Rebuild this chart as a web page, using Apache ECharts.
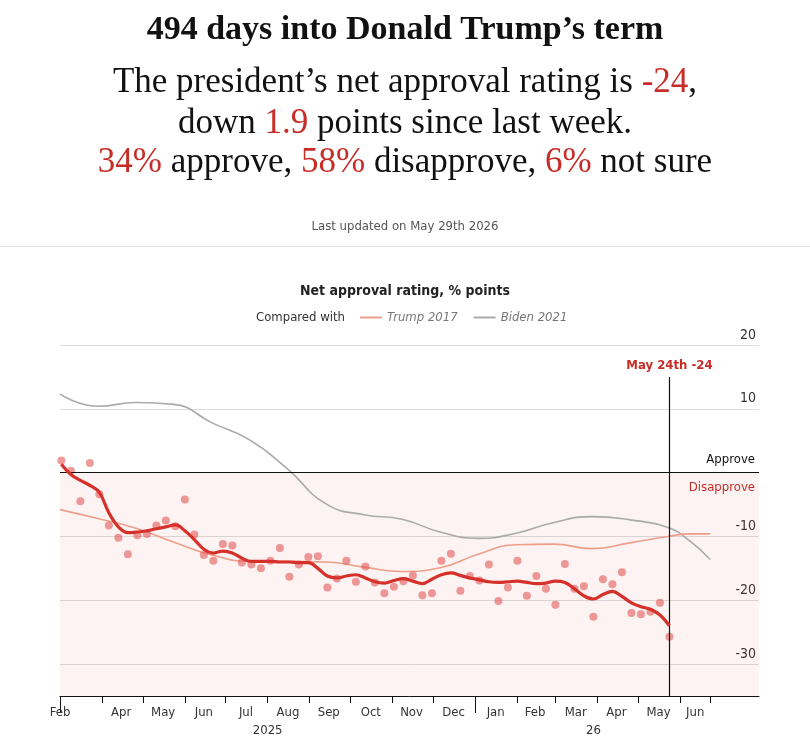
<!DOCTYPE html>
<html>
<head>
<meta charset="utf-8">
<script src="https://cdn.jsdelivr.net/npm/echarts@6/dist/echarts.min.js"></script>
<style>
html,body{margin:0;padding:0;background:#fff;}
#chart{width:810px;height:745px;}
</style>
</head>
<body>
<div id="chart"></div>
<script>
// ---------------- DATA ----------------
const pollDates = [
 '2025-03-02','2025-03-09','2025-03-16','2025-03-23','2025-03-30',
 '2025-04-06','2025-04-13','2025-04-20','2025-04-27',
 '2025-05-04','2025-05-11','2025-05-18','2025-05-25',
 '2025-06-01','2025-06-08','2025-06-15','2025-06-22','2025-06-29',
 '2025-07-06','2025-07-13','2025-07-20','2025-07-27',
 '2025-08-03','2025-08-10','2025-08-17','2025-08-24','2025-08-31',
 '2025-09-07','2025-09-14','2025-09-21','2025-09-28',
 '2025-10-05','2025-10-12','2025-10-19','2025-10-26',
 '2025-11-02','2025-11-09','2025-11-16','2025-11-23','2025-11-30',
 '2025-12-07','2025-12-14','2025-12-21','2025-12-28',
 '2026-01-04','2026-01-11','2026-01-18','2026-01-25',
 '2026-02-01','2026-02-08','2026-02-15','2026-02-22',
 '2026-03-01','2026-03-08','2026-03-15','2026-03-22','2026-03-29',
 '2026-04-05','2026-04-12','2026-04-19','2026-04-26',
 '2026-05-03','2026-05-10','2026-05-17','2026-05-24'
];
const pollValues = [
 1.9, 0.3, -4.5, 1.5, -3.4, -8.3, -10.2, -12.8, -9.8, -9.6, -8.3, -7.5, -8.4,
 -4.2, -9.7, -12.9, -13.8, -11.2, -11.4, -14.1, -14.4, -15.0, -13.8, -11.8, -16.3,
 -14.4, -13.2, -13.1, -18.0, -16.6, -13.8, -17.1, -14.7, -17.2, -18.9, -17.9, -17.0,
 -16.1, -19.2, -18.9, -13.8, -12.7, -18.5, -16.2, -16.9, -14.4, -20.1, -18.0, -13.8,
 -19.3, -16.2, -18.2, -20.7, -14.3, -18.2, -17.8, -22.6, -16.7, -17.5, -15.6, -22.0,
 -22.2, -21.8, -20.4, -25.7
];
const trendValues = [
 1.3, -0.3, -1.2, -2.0, -3.1, -6.3, -8.5, -9.4, -9.3, -9.1, -8.8, -8.5, -8.2,
 -9.1, -10.5, -12.0, -12.6, -12.3, -12.6, -13.4, -13.9, -13.9, -13.9, -14.0, -14.0,
 -14.1, -14.1, -15.0, -16.2, -16.5, -16.2, -16.0, -16.5, -17.1, -17.3, -16.9, -16.6,
 -17.0, -17.4, -16.7, -16.0, -15.7, -16.1, -16.5, -16.8, -17.1, -17.2, -17.1, -17.0,
 -17.2, -17.4, -17.3, -17.0, -17.2, -18.2, -19.3, -19.8, -19.1, -18.6, -19.4, -20.4,
 -21.0, -21.4, -22.3, -24.0
];
// comparison series, day numbers counted from 1 Jan 2025
const compDays   = [59, 87, 115, 143, 171, 199, 227, 255, 283, 311, 339, 367, 395, 423, 451, 479, 507, 523, 538];
const trump2017  = [-5.8, -7.2, -8.7, -10.9, -12.9, -13.9, -13.9, -14.0, -14.8, -15.5, -14.9, -12.8, -11.3, -11.2, -11.9, -11.0, -10.0, -9.6, -9.6];
const biden2021  = [12.3, 10.4, 11.0, 10.7, 7.8, 5.1, 0.5, -4.9, -6.6, -7.3, -9.3, -10.3, -9.5, -7.8, -6.9, -7.4, -8.6, -10.7, -13.6];

const monthTickDates  = ['2025-03-01','2025-04-01','2025-05-01','2025-06-01','2025-07-01','2025-08-01','2025-09-01','2025-10-01','2025-11-01','2025-12-01','2026-01-01','2026-02-01','2026-03-01','2026-04-01','2026-05-01','2026-06-01','2026-06-23'];
const monthLabels     = ['Feb','Apr','May','Jun','Jul','Aug','Sep','Oct','Nov','Dec','Jan','Feb','Mar','Apr','May','Jun'];
const monthLabelDates = ['2025-03-01','2025-04-15','2025-05-16','2025-06-15','2025-07-16','2025-08-16','2025-09-15','2025-10-16','2025-11-15','2025-12-16','2026-01-16','2026-02-14','2026-03-16','2026-04-15','2026-05-16','2026-06-12'];
const yearLabels      = ['2025','26'];
const yearLabelDates  = ['2025-08-01','2026-03-29'];
const yearTickDates   = ['2025-03-01','2026-01-01'];
const yTickLabels     = [20, 10, -10, -20, -30];

const markerDate  = '2026-05-24';
const markerText  = 'May 24th -24';
const X_MIN_DATE = '2025-03-01', X_MAX_DATE = '2026-07-29';
const Y_MIN = -35, Y_MAX = 20, MARKER_TOP = 15;

// ---------------- HELPERS ----------------
const D0 = Date.UTC(2025, 0, 1);
function dayOf(s){ const p = s.split('-').map(Number); return (Date.UTC(p[0], p[1]-1, p[2]) - D0) / 864e5; }

const RED = '#c62d27';
const SERIF = "'Liberation Serif','DejaVu Serif',serif";
const SANS = "'Liberation Sans Narrow','DejaVu Sans Condensed','Roboto Condensed',Roboto,'Liberation Sans',sans-serif";

const pollDays = pollDates.map(dayOf);
const labelDays = monthLabelDates.map(dayOf);
const yearDays = yearLabelDates.map(dayOf);
const markerDay = dayOf(markerDate);

const chart = echarts.init(document.getElementById('chart'), null, {renderer:'canvas'});

const subStyle = {fontFamily: SERIF, fontWeight: 'normal', fontSize: 35, color: '#111',
  rich: {r: {fontFamily: SERIF, fontSize: 35, color: RED}}};

const option = {
  animation: false,
  backgroundColor: '#fff',
  title: [
    {text: '494 days into Donald Trump’s term', left: 'center', top: 8,
     textStyle: {fontFamily: SERIF, fontWeight: 'bold', fontSize: 34, color: '#111'}},
    {text: 'The president’s net approval rating is {r|-24},', left: 'center', top: 60, textStyle: subStyle},
    {text: 'down {r|1.9} points since last week.', left: 'center', top: 101, textStyle: subStyle},
    {text: '{r|34%} approve, {r|58%} disapprove, {r|6%} not sure', left: 'center', top: 140, textStyle: subStyle},
    {text: 'Last updated on May 29th 2026', left: 'center', top: 215,
     textStyle: {fontFamily: SANS, fontWeight: 'normal', fontSize: 13, color: '#555'}},
    {text: 'Net approval rating, % points', left: 'center', top: 279,
     textStyle: {fontFamily: SANS, fontWeight: 'bold', fontSize: 14, color: '#222'}},
    {text: 'Compared with', left: 251, top: 306,
     textStyle: {fontFamily: SANS, fontWeight: 'normal', fontSize: 13, color: '#333'}}
  ],
  graphic: [
    {type: 'rect', left: 0, top: 246, shape: {width: 810, height: 1}, style: {fill: '#e2e2e2'}, silent: true}
  ],
  legend: {
    left: 355, top: 306, itemGap: 16, itemWidth: 22, itemHeight: 2,
    icon: 'rect', selectedMode: false,
    data: ['Trump 2017', 'Biden 2021'],
    textStyle: {fontFamily: SANS, fontStyle: 'italic', fontSize: 13, color: '#777', padding: [0,0,0,0]}
  },
  grid: {left: 60, right: 51, top: 345, bottom: 49, containLabel: false},
  xAxis: [
    {type: 'value', min: dayOf(X_MIN_DATE), max: dayOf(X_MAX_DATE), position: 'bottom',
     splitLine: {show: false},
     axisLine: {show: true, onZero: false, lineStyle: {color: '#111', width: 1}},
     axisTick: {show: true, length: 7, lineStyle: {color: '#111', width: 1}, customValues: monthTickDates.map(dayOf)},
     axisLabel: {show: true, margin: 10, fontFamily: SANS, fontSize: 13, color: '#333',
       customValues: labelDays,
       formatter: function(v){ const i = labelDays.indexOf(v); return i >= 0 ? monthLabels[i] : ''; }}
    },
    {type: 'value', min: dayOf(X_MIN_DATE), max: dayOf(X_MAX_DATE), position: 'bottom',
     splitLine: {show: false},
     axisLine: {show: false, onZero: false},
     axisTick: {show: true, length: 17, lineStyle: {color: '#111', width: 1}, customValues: yearTickDates.map(dayOf)},
     axisLabel: {show: true, margin: 28, fontFamily: SANS, fontSize: 13, color: '#333',
       customValues: yearDays,
       formatter: function(v){ const i = yearDays.indexOf(v); return i >= 0 ? yearLabels[i] : ''; }}
    }
  ],
  yAxis: {
    type: 'value', min: Y_MIN, max: Y_MAX, interval: 5, position: 'right',
    axisLine: {show: false}, axisTick: {show: false},
    splitLine: {show: true, lineStyle: {color: ['rgba(0,0,0,0)', '#dcdcdc'], width: 1}},
    axisLabel: {show: true, inside: true, margin: 3, interval: 0, fontFamily: SANS, fontSize: 14, color: '#333',
      verticalAlign: 'bottom', padding: [0,0,3,0],
      formatter: function(v){ return yTickLabels.indexOf(v) >= 0 ? String(v) : ''; }}
  },
  series: [
    {
      name: 'Biden 2021', type: 'line', smooth: 0.5, symbol: 'none',
      data: compDays.map((d,i) => [d, biden2021[i]]),
      lineStyle: {color: '#aaaaaa', width: 1.6}, itemStyle: {color: '#aaaaaa'},
      z: 3, silent: true,
      markArea: {silent: true, itemStyle: {color: 'rgba(232,90,70,0.07)'},
        data: [[{yAxis: 0}, {yAxis: Y_MIN}]]}
    },
    {
      name: 'Trump 2017', type: 'line', smooth: 0.5, symbol: 'none',
      data: compDays.map((d,i) => [d, trump2017[i]]),
      lineStyle: {color: '#ee9f8a', width: 1.6}, itemStyle: {color: '#ee9f8a'},
      z: 3, silent: true
    },
    {
      name: 'Polls', type: 'scatter', symbolSize: 8,
      data: pollDays.map((d,i) => [d, pollValues[i]]),
      itemStyle: {color: 'rgba(226,82,82,0.72)'},
      z: 4, silent: true
    },
    {
      name: 'Trend', type: 'line', smooth: 0.4, symbol: 'none',
      data: pollDays.map((d,i) => [d, trendValues[i]]),
      lineStyle: {color: '#d6302a', width: 3.2},
      z: 5, silent: true,
      markLine: {
        silent: true, symbol: ['none','none'], animation: false,
        data: [
          {yAxis: 0, lineStyle: {color: '#111', width: 1.2, type: 'solid'},
           label: {show: true, position: 'insideEndTop', formatter: 'Approve', distance: [4, 7],
             fontFamily: SANS, fontSize: 13, color: '#111', fontWeight: 'normal'}},
          {yAxis: 0, lineStyle: {color: '#111', width: 1.2, type: 'solid'},
           label: {show: true, position: 'insideEndBottom', formatter: 'Disapprove', distance: [4, 8],
             fontFamily: SANS, fontSize: 13, color: RED, fontWeight: 'normal'}},
          [
            {coord: [markerDay, Y_MIN], lineStyle: {color: '#111', width: 1.2, type: 'solid'},
             label: {show: true, position: 'end', formatter: markerText, distance: 5,
               fontFamily: SANS, fontSize: 13, fontWeight: 'bold', color: RED}},
            {coord: [markerDay, MARKER_TOP]}
          ]
        ]
      }
    }
  ]
};
chart.setOption(option);
</script>
</body>
</html>
